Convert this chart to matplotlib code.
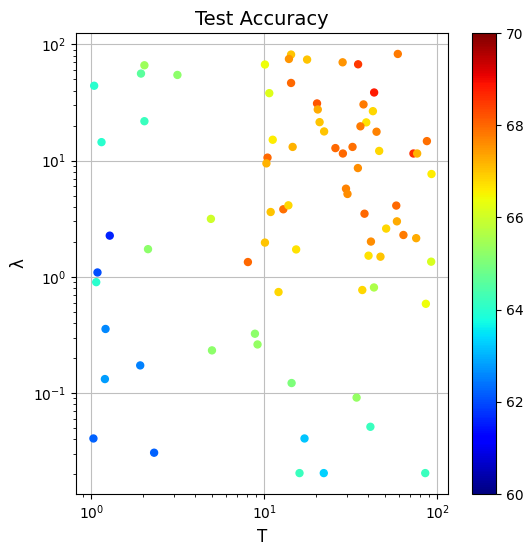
import matplotlib
matplotlib.use("Agg")
import matplotlib.pyplot as plt

# values
T = [2.03, 1.94, 3.15, 1.04, 2.03, 1.147, 10.1, 10.7, 11.2, 10.45,
     10.3, 4.92, 1.28, 2.13, 10.9, 10.1, 8.05, 1.087, 1.069, 1.21,
     1.92, 1.20, 1.03, 2.31, 4.99, 8.84, 9.15, 92.3, 12.1, 36.9,
     43.1, 86.0, 14.4, 34.2, 41.1, 17.1, 16.0, 22.1, 85.3, 14.3,
     13.9, 17.7, 28.4, 34.9, 59.2, 14.3, 43.2, 20.2, 20.4, 37.5,
     42.5, 20.9, 38.9, 22.2, 36.0, 44.6, 14.6, 25.8, 28.5, 32.4,
     46.2, 87.2, 72.9, 76.6, 34.8, 92.7, 29.7, 30.3, 58.0, 12.9,
     13.8, 38.0, 58.5, 50.7, 63.8, 75.6, 41.4, 15.3, 40.1, 47.0]
lam = [66, 56, 54.5, 44, 21.8, 14.4, 67, 38, 15.1, 10.6,
       9.46, 3.15, 2.26, 1.73, 3.61, 1.97, 1.34, 1.09, 0.90, 0.356,
       0.173, 0.132, 0.0407, 0.0307, 0.233, 0.324, 0.262, 1.35, 0.74, 0.77,
       0.81, 0.586, 0.122, 0.0915, 0.0513, 0.0407, 0.0205, 0.0205, 0.0205, 81.6,
       74.8, 73.9, 70, 67.3, 82.6, 46.5, 38.5, 31, 27.5, 30.4,
       26.6, 21.4, 21.3, 17.8, 19.7, 17.7, 13.1, 12.8, 11.5, 13.1,
       12.1, 14.7, 11.5, 11.5, 8.62, 7.66, 5.73, 5.16, 4.1, 3.81,
       4.12, 3.49, 3.0, 2.6, 2.29, 2.15, 2.01, 1.72, 1.52, 1.49]
acc = [65.4, 64.6, 65.2, 64.0, 64.2, 64.0, 66.4, 66.2, 66.6, 68.0,
       67.2, 66.0, 61.6, 65.2, 67.0, 67.0, 68.0, 62.0, 64.0, 62.6,
       62.5, 62.8, 62.2, 62.2, 65.2, 65.2, 65.3, 66.1, 66.8, 66.8,
       65.6, 66.4, 65.0, 65.3, 64.2, 63.2, 64.2, 63.3, 64.2, 67.0,
       67.5, 67.0, 67.5, 68.5, 67.8, 68.0, 68.8, 68.2, 67.3, 67.8,
       66.8, 67.0, 66.7, 67.0, 67.8, 67.7, 67.2, 68.0, 68.0, 67.9,
       66.8, 67.9, 68.6, 67.2, 67.6, 66.6, 67.7, 67.6, 68.0, 67.9,
       66.8, 68.0, 67.3, 66.8, 67.8, 67.3, 67.6, 66.7, 66.7, 67.0]

fig = plt.figure(figsize=(5.32, 5.57), dpi=100)
ax = fig.add_axes([0.1429, 0.1131, 0.699, 0.8276])
cax = fig.add_axes([0.887, 0.1131, 0.045, 0.8276])

sc = ax.scatter(T, lam, c=acc, cmap="jet", vmin=60, vmax=70, s=25, zorder=3)
ax.set_xscale("log")
ax.set_yscale("log")
ax.set_xlim(0.817, 115.3)
ax.set_ylim(0.01355, 125)
ax.grid(True, color="#bfbfbf", linewidth=0.8, zorder=0)
ax.set_axisbelow(True)
ax.set_title("Test Accuracy", fontsize=14)
ax.set_xlabel("T", fontsize=12)
ax.set_ylabel("λ", fontsize=12)

fig.colorbar(sc, cax=cax)

fig.savefig("out.png", dpi=100)
